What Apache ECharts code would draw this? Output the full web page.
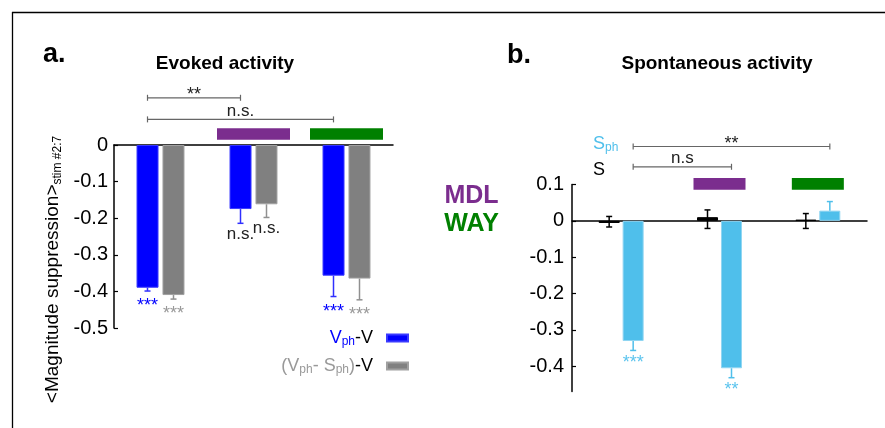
<!DOCTYPE html>
<html><head><meta charset="utf-8">
<script src="https://cdn.jsdelivr.net/npm/echarts@6/dist/echarts.min.js"></script>
<style>html,body{margin:0;padding:0;background:#fff}#c{width:885px;height:428px}</style>
</head><body><div id="c"></div>
<script>
// ---------- data ----------
const groups = ['Control', 'MDL', 'WAY'];
// panel a: evoked activity
const aTicks = [0, -0.1, -0.2, -0.3, -0.4, -0.5];
const aVph = [-0.39, -0.175, -0.357];
const aVphErr = [0.009, 0.039, 0.057];
const aVphSph = [-0.41, -0.162, -0.365];
const aVphSphErr = [0.011, 0.036, 0.058];
const aVphSig = ['***', 'n.s.', '***'];
const aVphSphSig = ['***', 'n.s.', '***'];
const aBrackets = [[0, 1, 0.129], [0, 2, 0.070]];
const aBracketText = ['**', 'n.s.'];
const aDrugBand = [0.0145, 0.0456];
// panel b: spontaneous activity
const bTicks = [0.1, 0, -0.1, -0.2, -0.3, -0.4];
const bS = [-0.006, 0.010, 0.003];
const bSErrUp = [0.018, 0.020, 0.017];
const bSErrDown = [0.011, 0.031, 0.024];
const bSph = [-0.331, -0.406, 0.028];
const bSphErr = [0.026, 0.026, 0.025];
const bSphSig = ['***', '**', ''];
const bBrackets = [[0, 2, 0.2047], [0, 1, 0.1488]];
const bBracketText = ['**', 'n.s'];
const bDrugBand = [0.0854, 0.1176];
const drugGroups = [1, 2];
const drugColors = ['#7B2D8E', '#008000'];

// ---------- helpers ----------
const FF = 'Liberation Sans, Arial, sans-serif';
function midY(text, centerY, fs) {
  // convert a visual glyph centre into an em-box middle
  if (/^\*+$/.test(text)) return centerY + 0.227 * fs;
  return centerY - 0.087 * fs;
}
function errSeries(xi, vals, up, down, offset, color, sig, sigColor, sigGap, cap) {
  return {
    type: 'custom', xAxisIndex: xi, yAxisIndex: xi, z: 5, silent: true,
    encode: { x: 0, y: 1 },
    data: vals.map((v, i) => [i, v, up[i], down[i]]),
    renderItem(params, api) {
      const i = api.value(0), v = api.value(1), u = api.value(2), d = api.value(3);
      const x = api.coord([i, v])[0] + offset;
      const yT = api.coord([i, v + u])[1], yB = api.coord([i, v - d])[1];
      const st = { stroke: color, lineWidth: 1.5 };
      const ch = [{ type: 'line', shape: { x1: x, y1: yT, x2: x, y2: yB }, style: st }];
      if (u > 0) ch.push({ type: 'line', shape: { x1: x - cap, y1: yT, x2: x + cap, y2: yT }, style: st });
      if (d > 0) ch.push({ type: 'line', shape: { x1: x - cap, y1: yB, x2: x + cap, y2: yB }, style: st });
      const s = sig ? sig[params.dataIndex] : '';
      if (s) {
        const stars = /^\*+$/.test(s);
        const fs = stars ? 18 : 17;
        const gap = stars ? sigGap : sigGap + 1;
        ch.push({ type: 'text', x: x, y: midY(s, yB + gap, fs),
          style: { text: s, fill: stars ? sigColor : '#222', font: fs + 'px ' + FF, align: 'center', verticalAlign: 'middle' } });
      }
      return { type: 'group', children: ch };
    }
  };
}
function bracketSeries(xi, br, texts, offset) {
  return {
    type: 'custom', xAxisIndex: xi, yAxisIndex: xi, silent: true, z: 5,
    encode: { x: 0, y: 2 },
    data: br,
    renderItem(params, api) {
      const p1 = api.coord([api.value(0), api.value(2)]);
      const p2 = api.coord([api.value(1), api.value(2)]);
      const x1 = p1[0] + offset, x2 = p2[0] + offset, y = p1[1];
      const st = { stroke: '#666', lineWidth: 1.2 };
      const t = texts[params.dataIndex];
      const fs = /^\*+$/.test(t) ? 18 : 17;
      return { type: 'group', children: [
        { type: 'line', shape: { x1: x1, y1: y, x2: x2, y2: y }, style: st },
        { type: 'line', shape: { x1: x1, y1: y - 3, x2: x1, y2: y + 3 }, style: st },
        { type: 'line', shape: { x1: x2, y1: y - 3, x2: x2, y2: y + 3 }, style: st },
        { type: 'text', x: (x1 + x2) / 2, y: midY(t, y - 7, fs),
          style: { text: t, fill: '#222', font: fs + 'px ' + FF, align: 'center', verticalAlign: 'middle' } }
      ] };
    }
  };
}
function drugSeries(xi, band, width) {
  return {
    type: 'custom', xAxisIndex: xi, yAxisIndex: xi, silent: true, z: 4,
    encode: { x: 0, y: 1 },
    data: drugGroups.map(g => [g, band[0], band[1]]),
    renderItem(params, api) {
      const lo = api.coord([api.value(0), api.value(1)]);
      const hi = api.coord([api.value(0), api.value(2)]);
      return { type: 'rect', shape: { x: lo[0] - width / 2, y: hi[1], width: width, height: lo[1] - hi[1] },
        style: { fill: drugColors[params.dataIndex] } };
    }
  };
}
const upOf = (v, e) => v.map((x, i) => x > 0 ? e[i] : 0);
const downOf = (v, e) => v.map((x, i) => x < 0 ? e[i] : 0);
const fmt = v => v === 0 ? '0' : v.toFixed(1);

const axisLineStyle = { color: '#000', width: 1.5 };
const option = {
  animation: false,
  backgroundColor: '#fff',
  textStyle: { fontFamily: FF },
  grid: [
    { left: 114, top: 145, width: 279, height: 183 },
    { left: 572, top: 184.5, width: 295, height: 207 }
  ],
  xAxis: [
    { type: 'category', gridIndex: 0, data: groups, axisLine: { lineStyle: axisLineStyle },
      axisTick: { show: false }, axisLabel: { show: false } },
    { type: 'category', gridIndex: 1, data: groups, axisLine: { lineStyle: axisLineStyle },
      axisTick: { show: false }, axisLabel: { show: false } }
  ],
  yAxis: [
    { type: 'value', gridIndex: 0, min: -0.5, max: 0, interval: 0.1,
      axisLine: { show: true, lineStyle: axisLineStyle },
      axisTick: { show: true, inside: true, length: 4, customValues: aTicks, lineStyle: { color: '#000', width: 1.2 } },
      axisLabel: { customValues: aTicks, formatter: fmt, fontSize: 20, color: '#000', margin: 6, fontFamily: FF },
      splitLine: { show: false },
      name: '{m|<Magnitude suppression>}{s|stim #2:7}',
      nameLocation: 'middle', nameRotate: 90, nameGap: 50,
      nameTextStyle: { padding: [0, 66, 0, 0], rich: {
        m: { fontSize: 19, color: '#000', fontFamily: FF, lineHeight: 22 },
        s: { fontSize: 12, color: '#000', fontFamily: FF, lineHeight: 12, verticalAlign: 'bottom' } } } },
    { type: 'value', gridIndex: 1, min: -0.47, max: 0.1,
      axisLine: { show: true, lineStyle: axisLineStyle },
      axisTick: { show: true, inside: true, length: 4, customValues: bTicks, lineStyle: { color: '#000', width: 1.2 } },
      axisLabel: { customValues: bTicks, formatter: fmt, fontSize: 20, color: '#000', margin: 8, fontFamily: FF },
      splitLine: { show: false } }
  ],
  legend: {
    data: ['Vph-V', '(Vph- Sph)-V'],
    orient: 'vertical', right: 471, top: 324, align: 'right',
    itemWidth: 21, itemHeight: 7, itemGap: 9, selectedMode: false, icon: 'rect',
    formatter: n => n === 'Vph-V'
      ? '{bm|V}{bs|ph}{km|-V}'
      : '{gm|(V}{gs|ph}{gm|- S}{gs|ph}{gm|)}{km|-V}',
    textStyle: { rich: {
      bm: { fontSize: 18, color: '#0000ff', lineHeight: 20, fontFamily: FF },
      bs: { fontSize: 12, color: '#0000ff', lineHeight: 10, verticalAlign: 'bottom', fontFamily: FF },
      gm: { fontSize: 18, color: '#999', lineHeight: 20, fontFamily: FF },
      gs: { fontSize: 12, color: '#999', lineHeight: 10, verticalAlign: 'bottom', fontFamily: FF },
      km: { fontSize: 18, color: '#000', lineHeight: 20, fontFamily: FF, padding: [0, 9, 0, 0] } } }
  },
  series: [
    { name: 'Vph-V', type: 'bar', xAxisIndex: 0, yAxisIndex: 0, data: aVph, barWidth: 22, barGap: '18%',
      itemStyle: { color: '#0000ff', borderColor: '#3a3aff', borderWidth: 1 } },
    { name: '(Vph- Sph)-V', type: 'bar', xAxisIndex: 0, yAxisIndex: 0, data: aVphSph, barWidth: 22, barGap: '18%',
      itemStyle: { color: '#808080', borderColor: '#a0a0a0', borderWidth: 1 } },
    errSeries(0, aVph, upOf(aVph, aVphErr), downOf(aVph, aVphErr), -13, '#3030ff', aVphSig, '#0000ff', 11, 3),
    errSeries(0, aVphSph, upOf(aVphSph, aVphSphErr), downOf(aVphSph, aVphSphErr), 13, '#909090', aVphSphSig, '#999', 11, 3),
    bracketSeries(0, aBrackets, aBracketText, -13),
    drugSeries(0, aDrugBand, 73),

    { name: 'S', type: 'bar', xAxisIndex: 1, yAxisIndex: 1, data: bS, barWidth: 21, barGap: '14%',
      itemStyle: { color: '#000', borderColor: '#000', borderWidth: 1 } },
    { name: 'Sph', type: 'bar', xAxisIndex: 1, yAxisIndex: 1, data: bSph, barWidth: 21, barGap: '14%',
      itemStyle: { color: '#4fbfeb', borderColor: '#8fd5f2', borderWidth: 1 } },
    errSeries(1, bS, bSErrUp, bSErrDown, -12, '#000', null, '#000', 8, 3),
    errSeries(1, bSph, upOf(bSph, bSphErr), downOf(bSph, bSphErr), 12, '#4fbfeb', bSphSig, '#5cc4ee', 8, 3),
    bracketSeries(1, bBrackets, bBracketText, 12),
    drugSeries(1, bDrugBand, 52)
  ],
  graphic: [
    { type: 'line', shape: { x1: 12, y1: 12.5, x2: 885, y2: 12.5 }, style: { stroke: '#000', lineWidth: 1.3 } },
    { type: 'line', shape: { x1: 12.5, y1: 12, x2: 12.5, y2: 428 }, style: { stroke: '#000', lineWidth: 1.3 } },
    { type: 'text', x: 43, y: 55, style: { text: 'a.', font: 'bold 27px ' + FF, fill: '#000', align: 'left', verticalAlign: 'middle' } },
    { type: 'text', x: 507, y: 56, style: { text: 'b.', font: 'bold 27px ' + FF, fill: '#000', align: 'left', verticalAlign: 'middle' } },
    { type: 'text', x: 225, y: 64, style: { text: 'Evoked activity', font: 'bold 19px ' + FF, fill: '#000', align: 'center', verticalAlign: 'middle' } },
    { type: 'text', x: 717, y: 64, style: { text: 'Spontaneous activity', font: 'bold 19px ' + FF, fill: '#000', align: 'center', verticalAlign: 'middle' } },
    { type: 'text', x: 471.5, y: 196, style: { text: 'MDL', font: 'bold 25px ' + FF, fill: '#7B2D8E', align: 'center', verticalAlign: 'middle' } },
    { type: 'text', x: 471.5, y: 224, style: { text: 'WAY', font: 'bold 25px ' + FF, fill: '#008000', align: 'center', verticalAlign: 'middle' } },
    { type: 'text', x: 593, y: 144, style: { text: '{m|S}{s|ph}', align: 'left', verticalAlign: 'middle',
      rich: { m: { fontSize: 18, fill: '#4fbfeb', lineHeight: 20, fontFamily: FF },
              s: { fontSize: 12, fill: '#4fbfeb', lineHeight: 10, verticalAlign: 'bottom', fontFamily: FF } } } },
    { type: 'text', x: 593, y: 170, style: { text: 'S', font: '18px ' + FF, fill: '#000', align: 'left', verticalAlign: 'middle' } }
  ]
};
const chart = echarts.init(document.getElementById('c'), null, { renderer: 'canvas' });
chart.setOption(option);
</script>
</body></html>
